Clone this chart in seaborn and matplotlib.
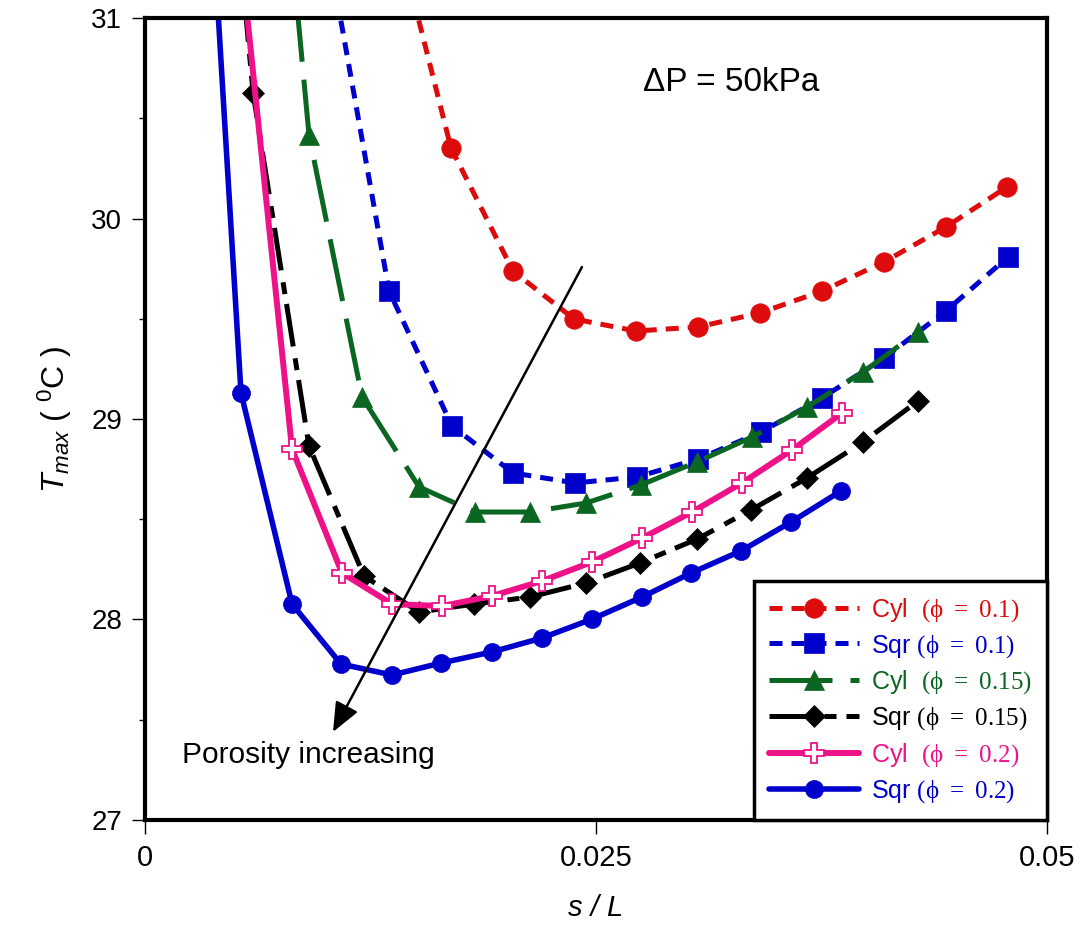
import matplotlib
matplotlib.use('Agg')
import matplotlib.pyplot as plt
import seaborn as sns

# s/L values and T_max (degC).
# First point of each series sits above the plot window (line runs off the top).
cyl1_x = [0.0136, 0.01696, 0.0204, 0.02378, 0.02722, 0.03065, 0.03409, 0.03753, 0.04096, 0.0444, 0.04778]
cyl1_y = [31.55, 30.352, 29.738, 29.499, 29.439, 29.459, 29.529, 29.638, 29.783, 29.958, 30.157]

sqr1_x = [0.0100, 0.01353, 0.01702, 0.0204, 0.02384, 0.02727, 0.03065, 0.03415, 0.03753, 0.04096, 0.0444, 0.04784]
sqr1_y = [31.42, 29.638, 28.965, 28.731, 28.681, 28.711, 28.800, 28.935, 29.105, 29.304, 29.539, 29.808]

cyl15_x = [0.0060, 0.00909, 0.01203, 0.01519, 0.01829, 0.02134, 0.02445, 0.02749, 0.0306, 0.03365, 0.0367, 0.0398, 0.04285]
cyl15_y = [33.4, 30.416, 29.110, 28.661, 28.536, 28.536, 28.581, 28.671, 28.786, 28.910, 29.060, 29.234, 29.434]

sqr15_x = [0.0045, 0.00599, 0.00909, 0.01214, 0.01519, 0.01824, 0.02134, 0.02445, 0.02744, 0.0306, 0.03359, 0.0367, 0.0398, 0.04285]
sqr15_y = [32.07, 30.626, 28.865, 28.217, 28.037, 28.077, 28.112, 28.182, 28.282, 28.401, 28.546, 28.706, 28.885, 29.090]

cyl2_x = [0.0054, 0.00815, 0.01092, 0.01369, 0.01646, 0.01923, 0.02201, 0.02478, 0.02755, 0.03032, 0.03309, 0.03586, 0.03864]
cyl2_y = [31.24, 28.850, 28.232, 28.077, 28.067, 28.117, 28.192, 28.287, 28.406, 28.536, 28.681, 28.845, 29.030]

sqr2_x = [0.0040, 0.00532, 0.00815, 0.01086, 0.01369, 0.01641, 0.01923, 0.02201, 0.02478, 0.02755, 0.03027, 0.03304, 0.03581, 0.03858]
sqr2_y = [31.10, 29.130, 28.077, 27.778, 27.723, 27.783, 27.838, 27.908, 28.002, 28.112, 28.232, 28.342, 28.486, 28.641]

labels = [r'Cyl  $(\mathrm{\phi}\ =\ 0.1)$', r'Sqr $(\mathrm{\phi}\ =\ 0.1)$',
          r'Cyl  $(\mathrm{\phi}\ =\ 0.15)$', r'Sqr $(\mathrm{\phi}\ =\ 0.15)$',
          r'Cyl  $(\mathrm{\phi}\ =\ 0.2)$', r'Sqr $(\mathrm{\phi}\ =\ 0.2)$']

red = '#DD0B0B'
blue = '#0000CC'
green = '#0A6620'
pink = '#EE1289'

sns.set_style('ticks')
plt.rcParams['font.family'] = ['Liberation Sans', 'DejaVu Sans']
plt.rcParams['mathtext.fontset'] = 'custom'
plt.rcParams['mathtext.rm'] = 'Liberation Serif'
plt.rcParams['mathtext.it'] = 'Liberation Sans:italic'
plt.rcParams['mathtext.sf'] = 'Liberation Sans'
for key in ['text.color', 'axes.labelcolor', 'xtick.color', 'ytick.color', 'axes.edgecolor']:
    plt.rcParams[key] = 'black'

fig, ax = plt.subplots(figsize=(10.8, 9.3), dpi=100)
fig.subplots_adjust(left=0.1343, right=0.9694, top=0.9806, bottom=0.1183)

sns.lineplot(x=cyl1_x, y=cyl1_y, ax=ax, color=red, linewidth=3.6, linestyle=(0, (2.6, 1.8)),
             marker='o', markersize=14, markeredgecolor=red, markeredgewidth=0.5, label=labels[0])
sns.lineplot(x=sqr1_x, y=sqr1_y, ax=ax, color=blue, linewidth=3.6, linestyle=(0, (2.6, 1.8)),
             marker='s', markersize=14, markeredgecolor=blue, markeredgewidth=0.5, label=labels[1])
sns.lineplot(x=cyl15_x, y=cyl15_y, ax=ax, color=green, linewidth=3.6, linestyle=(0, (12.6, 3.6)),
             marker='^', markersize=14, markeredgecolor=green, markeredgewidth=0.5, label=labels[2])
sns.lineplot(x=sqr15_x, y=sqr15_y, ax=ax, color='k', linewidth=3.6, linestyle=(0, (8.6, 2.4, 2.4, 2.0)),
             marker='D', markersize=11, markeredgecolor='k', markeredgewidth=0.5, label=labels[3])
sns.lineplot(x=cyl2_x, y=cyl2_y, ax=ax, color=pink, linewidth=4.3, linestyle='-',
             marker='P', markersize=14, markerfacecolor='white', markeredgecolor=pink,
             markeredgewidth=1.3, label=labels[4])
sns.lineplot(x=sqr2_x, y=sqr2_y, ax=ax, color=blue, linewidth=4.0, linestyle='-',
             marker='o', markersize=13, markeredgecolor=blue, markeredgewidth=0.5, label=labels[5])

ax.set_xlim(0, 0.05)
ax.set_ylim(27, 31)
ax.set_xticks([0, 0.025, 0.05])
ax.set_xticklabels(['0', '0.025', '0.05'])
ax.set_yticks([27, 28, 29, 30, 31])
ax.set_yticks([27.5, 28.5, 29.5, 30.5], minor=True)
ax.tick_params(axis='x', which='major', length=10, width=1, pad=7, labelsize=21)
ax.tick_params(axis='y', which='major', length=9.5, width=1, pad=7, labelsize=20)
ax.tick_params(axis='y', which='minor', length=4.5, width=1, left=True)
for sp in ax.spines.values():
    sp.set_linewidth(3)
    sp.set_color('k')

ax.set_xlabel('s / L', fontsize=21, fontstyle='italic', labelpad=16)
ax.set_ylabel(r'$T_{max}$ ( $^{\mathsf{0}}$C )', fontsize=23, labelpad=12)

ax.text(0.0276, 30.68, 'ΔP = 50kPa', fontsize=24, ha='left', va='center')
ax.text(0.00205, 27.324, 'Porosity increasing', fontsize=21.5, ha='left', va='center')
ax.annotate('', xy=(0.01042, 27.439), xytext=(0.02422, 29.758),
            arrowprops=dict(arrowstyle='-|>,head_length=0.9,head_width=0.38', color='k',
                            lw=1.8, mutation_scale=20, shrinkA=0, shrinkB=0))

leg = ax.legend(loc='lower right', borderaxespad=0, fontsize=18, handlelength=3.6,
                handletextpad=0.5, labelspacing=0.36, borderpad=0.6,
                frameon=True, fancybox=False, edgecolor='k', framealpha=1)
leg.get_frame().set_linewidth(2.5)
for txt, c in zip(leg.get_texts(), [red, blue, green, 'k', pink, blue]):
    txt.set_color(c)

fig.savefig('out.png', dpi=100)
